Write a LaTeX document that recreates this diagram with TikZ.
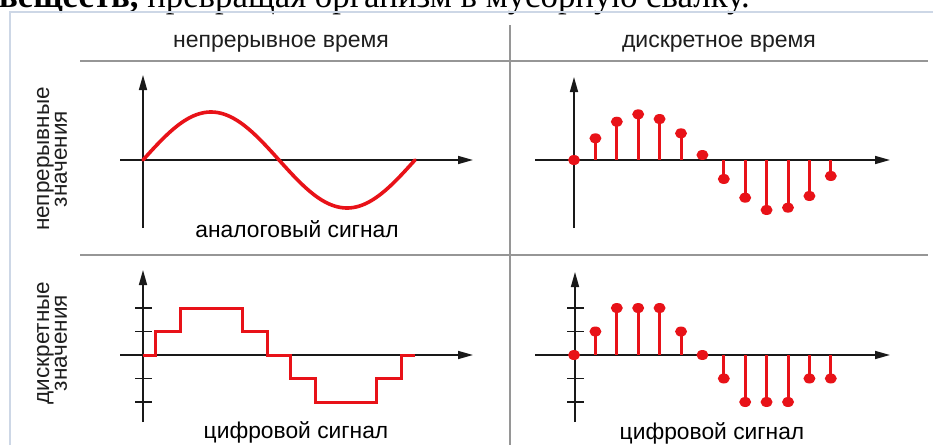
\documentclass[tikz,border=0pt]{standalone}
\usepackage{fontspec}
\setmainfont{Liberation Sans}
\newfontfamily\serifnote{Liberation Serif}
\usetikzlibrary{arrows.meta,shapes.geometric}
\definecolor{sigred}{RGB}{232,18,24}
\definecolor{gridgray}{RGB}{150,150,150}
\definecolor{framecol}{RGB}{205,215,230}
\definecolor{axiscol}{RGB}{25,25,25}
\definecolor{txtcol}{RGB}{30,30,30}
\begin{document}
\begin{tikzpicture}[x=1pt,y=-1pt,
  axisline/.style={draw=axiscol, line width=1.6pt, -{Triangle[length=15pt,width=8pt]}},
  tickline/.style={draw=axiscol, line width=1.6pt},
  gridline/.style={draw=gridgray, line width=1.8pt},
  frameline/.style={draw=framecol, line width=2.5pt},
  sigline/.style={draw=sigred, line width=3.6pt},
  stepline/.style={draw=sigred, line width=3pt},
  stemline/.style={draw=sigred, line width=3pt},
  dotnode/.style={ellipse, fill=sigred, inner sep=0pt, minimum width=12pt, minimum height=10pt},
  headtxt/.style={font=\fontsize{23}{27}\selectfont, text=txtcol, anchor=base, inner sep=0pt},
  sidetxt/.style={font=\fontsize{22.5}{15}\selectfont, text=txtcol, rotate=90, align=center, inner sep=0pt},
  labtxt/.style={font=\fontsize{22.8}{26}\selectfont, text=black, anchor=base, inner sep=0pt}
]
\useasboundingbox (0,0) rectangle (933,445);
\clip (0,0) rectangle (933,445);
\fill[white] (0,0) rectangle (933,445);

% cut-off line of text above the figure
\node[anchor=base east, inner sep=0pt, font=\serifnote\fontsize{34.8}{40}\selectfont] (topline) at (750,7.5) {\textbf{веществ,} превращая организм в мусорную свалку.};

% frame
\coordinate (frTL) at (10,12);
\coordinate (frTR) at (933,12);
\coordinate (frBL) at (10,445);
\draw[frameline] (frBL) -- (frTL) -- (frTR);

% grid
\coordinate (hA1) at (80,61);  \coordinate (hA2) at (928,61);
\coordinate (hB1) at (80,255); \coordinate (hB2) at (928,255);
\coordinate (vA1) at (510,25); \coordinate (vA2) at (510,445);
\draw[gridline] (hA1) -- (hA2);
\draw[gridline] (hB1) -- (hB2);
\draw[gridline] (vA1) -- (vA2);

% headers
\node[headtxt] (hdrL) at (281,47) {непрерывное время};
\node[headtxt] (hdrR) at (719,47) {дискретное время};
\node[sidetxt] (sideT) at (52,159) {непрерывные\\значения};
\node[sidetxt] (sideB) at (52,343) {дискретные\\значения};

% ---------- top-left: analog ----------
\coordinate (tlY0) at (143,228); \coordinate (tlY1) at (143,75);
\coordinate (tlX0) at (120,160); \coordinate (tlX1) at (473,160);
\draw[axisline] (tlY0) -- (tlY1);
\draw[axisline] (tlX0) -- (tlX1);
\draw[sigline, line cap=round] plot[domain=0:272, samples=120, smooth] ({143+\x},{160-48*sin(\x/272*360)});
\node[labtxt] (labTL) at (297,237) {аналоговый сигнал};

% ---------- top-right: discrete time ----------
\coordinate (trY0) at (574,228); \coordinate (trY1) at (574,77);
\coordinate (trX0) at (535,160); \coordinate (trX1) at (890,160);
\draw[axisline] (trY0) -- (trY1);
\draw[axisline] (trX0) -- (trX1);
\foreach \v [count=\i from 0] in {0,21.7,38.3,45.7,41,26.7,5,-19,-37.7,-50,-47.7,-36,-16}{
  \coordinate (trB\i) at ({574+21.4*\i},160);
  \node[dotnode] (trD\i) at ({574+21.4*\i},{160-\v}) {};
  \draw[stemline] (trB\i) -- (trD\i.center);
}

% ---------- bottom-left: digital ----------
\coordinate (blY0) at (143,422); \coordinate (blY1) at (143,270);
\coordinate (blX0) at (120,355); \coordinate (blX1) at (473,355);
\draw[axisline] (blY0) -- (blY1);
\draw[axisline] (blX0) -- (blX1);
\foreach \t in {308,331.5,378.5,402}{
  \draw[tickline] (135,\t) -- (152,\t);
}
\draw[stepline] (143,355) -- (155,355) -- (155,331.5) -- (180,331.5) -- (180,308) -- (242.7,308)
  -- (242.7,331.5) -- (267.7,331.5) -- (267.7,355) -- (290,355) -- (290,378.5) -- (315,378.5)
  -- (315,402) -- (376.7,402) -- (376.7,378.5) -- (401.7,378.5) -- (401.7,355) -- (415,355);
\node[labtxt] (labBL) at (296,438) {цифровой сигнал};

% ---------- bottom-right: digital discrete ----------
\coordinate (brY0) at (575,422); \coordinate (brY1) at (575,272);
\coordinate (brX0) at (535,355); \coordinate (brX1) at (890,355);
\draw[axisline] (brY0) -- (brY1);
\draw[axisline] (brX0) -- (brX1);
\foreach \t in {308,331.5,378.5,402}{
  \draw[tickline] (567,\t) -- (583.5,\t);
}
\foreach \v [count=\i from 0] in {0,1,2,2,2,1,0,-1,-2,-2,-2,-1,-1}{
  \coordinate (brB\i) at ({574+21.4*\i},355);
  \node[dotnode] (brD\i) at ({574+21.4*\i},{355-23.5*\v}) {};
  \draw[stemline] (brB\i) -- (brD\i.center);
}
\node[labtxt] (labBR) at (712,439) {цифровой сигнал};
\end{tikzpicture}
\end{document}
